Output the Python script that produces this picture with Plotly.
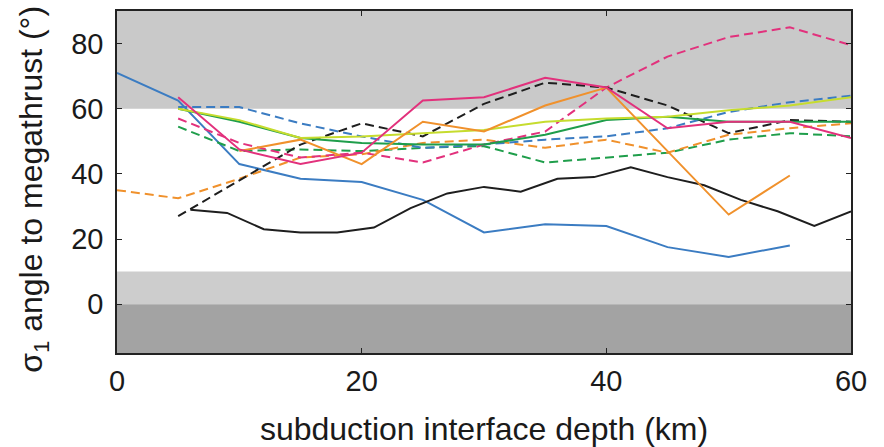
import plotly.graph_objects as go

# Depth along the subduction interface (km)
depth_5km = [5, 10, 15, 20, 25, 30, 35, 40, 45, 50, 55, 60]
depth_blue_solid = [0, 5, 10, 15, 20, 25, 30, 35, 40, 45, 50, 55]
depth_black_solid = [6, 9, 12, 15, 18, 21, 24, 27, 30, 33, 36, 39, 42, 45, 48, 51, 54, 57, 60]
depth_orange_solid = [10, 15, 20, 25, 30, 35, 40, 45, 50, 55]
depth_orange_dash = [0, 5, 10, 15, 20, 25, 30, 35, 40, 45, 50, 55, 60]

# sigma_1 angle to the megathrust (degrees)
blue_solid = [71, 62.5, 43, 38.5, 37.5, 32, 22, 24.5, 24, 17.5, 14.5, 18]
blue_dash = [60.5, 60.5, 55.5, 51.5, 48, 49, 50.5, 51.5, 54, 59, 62, 64]
black_solid = [29, 28, 23, 22, 22, 23.5, 29.5, 34, 36, 34.5, 38.5, 39, 42, 39, 36.5, 32, 28.5, 24, 28.5]
black_dash = [27, 38, 49, 55.5, 51.5, 61.5, 68, 66.5, 61, 52.5, 56.5, 56]
pink_solid = [63.5, 47.5, 43, 46.5, 62.5, 63.5, 69.5, 66.5, 54, 56, 56, 51]
pink_dash = [57, 49.5, 45, 46.5, 43.5, 49, 53, 66.5, 76, 82, 85, 79.5]
orange_solid = [47, 50.5, 43, 56, 53, 61, 66.5, 47, 27.5, 39.5]
orange_dash = [35, 32.5, 38.5, 45, 46, 49.5, 50.5, 48, 50.5, 46.5, 52, 54, 55.5]
green_solid = [60, 56, 51, 49.5, 49, 49, 52, 56.5, 57.5, 56, 56, 56]
green_dash = [54.5, 47, 47.5, 47, 48, 48.5, 43.5, 45, 46.5, 50.5, 52.5, 51.5]
lime_solid = [60, 56.5, 51, 51.5, 52.5, 53.5, 56, 57, 57.5, 59.5, 61, 63.5]

x_ticks = [0, 20, 40, 60]
y_ticks = [0, 20, 40, 60, 80]

BLUE = "#3b7cc2"
BLACK = "#1e1e1e"
PINK = "#e2317c"
ORANGE = "#f0912c"
GREEN = "#1f9e4b"
LIME = "#c6dc2e"

series = [
    (depth_blue_solid, blue_solid, BLUE, "solid"),
    (depth_black_solid, black_solid, BLACK, "solid"),
    (depth_5km, green_dash, GREEN, "dash"),
    (depth_orange_dash, orange_dash, ORANGE, "dash"),
    (depth_5km, blue_dash, BLUE, "dash"),
    (depth_5km, pink_dash, PINK, "dash"),
    (depth_5km, black_dash, BLACK, "dash"),
    (depth_5km, green_solid, GREEN, "solid"),
    (depth_5km, lime_solid, LIME, "solid"),
    (depth_orange_solid, orange_solid, ORANGE, "solid"),
    (depth_5km, pink_solid, PINK, "solid"),
]

fig = go.Figure()
for xs, ys, color, dash in series:
    fig.add_trace(go.Scatter(
        x=xs, y=ys, mode="lines",
        line=dict(color=color, width=2, dash="9px,5px" if dash == "dash" else "solid"),
        showlegend=False, hoverinfo="skip",
    ))

# Shaded angle ranges
bands = [(60, 90, "#c9c9c9"), (0, 10, "#cdcdcd"), (-15, 0, "#a3a3a3")]
for y0, y1, col in bands:
    fig.add_shape(type="rect", xref="x", yref="y", x0=0, x1=60, y0=y0, y1=y1,
                  fillcolor=col, line_width=0, layer="below")

font_family = "Liberation Sans, Arial, sans-serif"
axis_common = dict(
    showline=True, linecolor="#222", linewidth=1.5, mirror="ticks",
    ticks="inside", ticklen=5, tickwidth=1, tickcolor="#222",
    showgrid=False, zeroline=False, automargin=False,
    tickfont=dict(family=font_family, size=29, color="#1a1a1a"),
)

fig.update_layout(
    width=884, height=447,
    margin=dict(l=117, r=33, t=11, b=94),
    paper_bgcolor="white", plot_bgcolor="white",
    xaxis=dict(range=[0, 60], tickvals=x_ticks, **axis_common, ticklabelstandoff=1,
               title=dict(text="subduction interface depth (km)",
                          font=dict(family=font_family, size=32, color="#1a1a1a"), standoff=22)),
    yaxis=dict(range=[-15, 90], tickvals=y_ticks, **axis_common, ticklabelstandoff=6),
)

# Vertical axis label, placed beside the tick labels
fig.add_annotation(
    text="σ<sub>1</sub> angle to megathrust (°)",
    xref="paper", yref="paper", x=0, y=0.477, xanchor="center", yanchor="middle",
    xshift=-83, textangle=-90, showarrow=False,
    font=dict(family=font_family, size=32, color="#1a1a1a"),
)

fig.write_html("out.html")
